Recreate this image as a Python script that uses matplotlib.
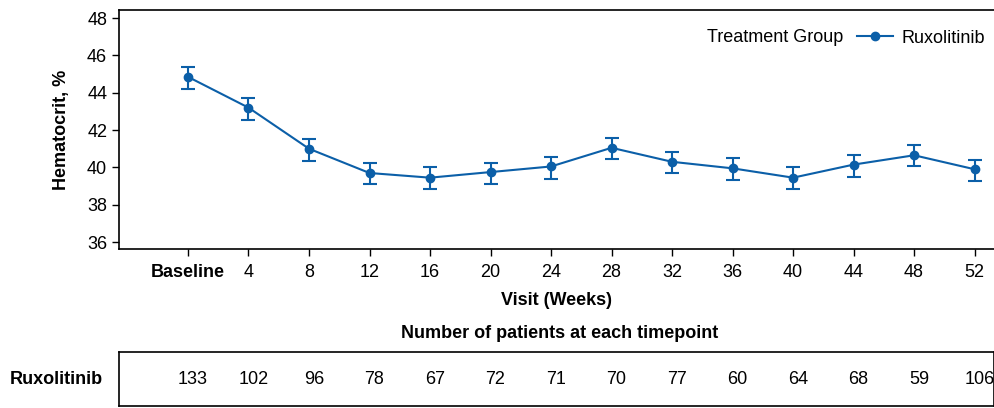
import numpy as np
import matplotlib
matplotlib.use('Agg')
import matplotlib.pyplot as plt
from matplotlib.lines import Line2D

plt.rcParams['font.family'] = ['Liberation Sans', 'DejaVu Sans']

# Visit labels and values
visits = ['Baseline', '4', '8', '12', '16', '20', '24', '28', '32', '36', '40', '44', '48', '52']
hct_mean = [44.85, 43.2, 41.0, 39.7, 39.45, 39.75, 40.05, 41.05, 40.3, 39.95, 39.45, 40.15, 40.65, 39.9]
hct_low = [44.2, 42.55, 40.35, 39.1, 38.85, 39.1, 39.4, 40.45, 39.7, 39.3, 38.85, 39.5, 40.05, 39.25]
hct_high = [45.4, 43.7, 41.5, 40.25, 40.0, 40.25, 40.55, 41.6, 40.8, 40.5, 40.0, 40.65, 41.2, 40.4]
n_patients = [133, 102, 96, 78, 67, 72, 71, 70, 77, 60, 64, 68, 59, 106]

blue = '#0b5fa8'
fs = 13
x = np.arange(len(visits))
mean = np.array(hct_mean)
yerr = [mean - np.array(hct_low), np.array(hct_high) - mean]

fig = plt.figure(figsize=(9.94, 4.08), dpi=100)
ax = fig.add_axes([0.1197, 0.3897, 0.8803, 0.5858])

ax.errorbar(x, mean, yerr=yerr, color=blue, marker='o', markersize=6, lw=1.5,
            capsize=5, capthick=1.5, elinewidth=1.5)

ax.set_xlim(-1.14, 13.32)
ax.set_ylim(35.63, 48.43)
ax.set_yticks(range(36, 49, 2))
ax.set_xticks(x)
ax.set_xticklabels(visits)
ax.get_xticklabels()[0].set_fontweight('bold')
ax.tick_params(axis='both', labelsize=fs, direction='out', length=5, width=1, colors='black')
ax.tick_params(axis='x', pad=6)
for s in ['left', 'bottom', 'top']:
    ax.spines[s].set_linewidth(1.2)
ax.spines['right'].set_visible(False)

ax.set_ylabel('Hematocrit, %', fontsize=fs, fontweight='bold', labelpad=12)
ax.set_xlabel('Visit (Weeks)', fontsize=fs, fontweight='bold', labelpad=8)

handle = Line2D([], [], color=blue, marker='o', markersize=6, lw=1.5)
ax.legend([handle], ['Ruxolitinib'], loc='upper right', bbox_to_anchor=(1.0, 0.955),
          frameon=False, fontsize=fs, handlelength=2.0, handletextpad=0.45, borderaxespad=0.1)
ax.text(0.828, 0.885, 'Treatment Group', transform=ax.transAxes, fontsize=fs,
        ha='right', va='center')

fig.text(0.563, 0.183, 'Number of patients at each timepoint', fontsize=fs,
         fontweight='bold', ha='center', va='center')

# At-risk table
tab = fig.add_axes([0.1197, 0.005, 0.8803, 0.132])
tab.set_xlim(ax.get_xlim())
tab.set_ylim(0, 1)
for xi, n in zip(x, n_patients):
    tab.text(xi + 0.08, 0.5, str(n), fontsize=fs, ha='center', va='center')
tab.set_xticks([])
tab.set_yticks([])
for s in tab.spines.values():
    s.set_linewidth(1.2)
fig.text(0.01, 0.069, 'Ruxolitinib', fontsize=fs, fontweight='bold', ha='left', va='center')

fig.savefig('out.png', dpi=100)
